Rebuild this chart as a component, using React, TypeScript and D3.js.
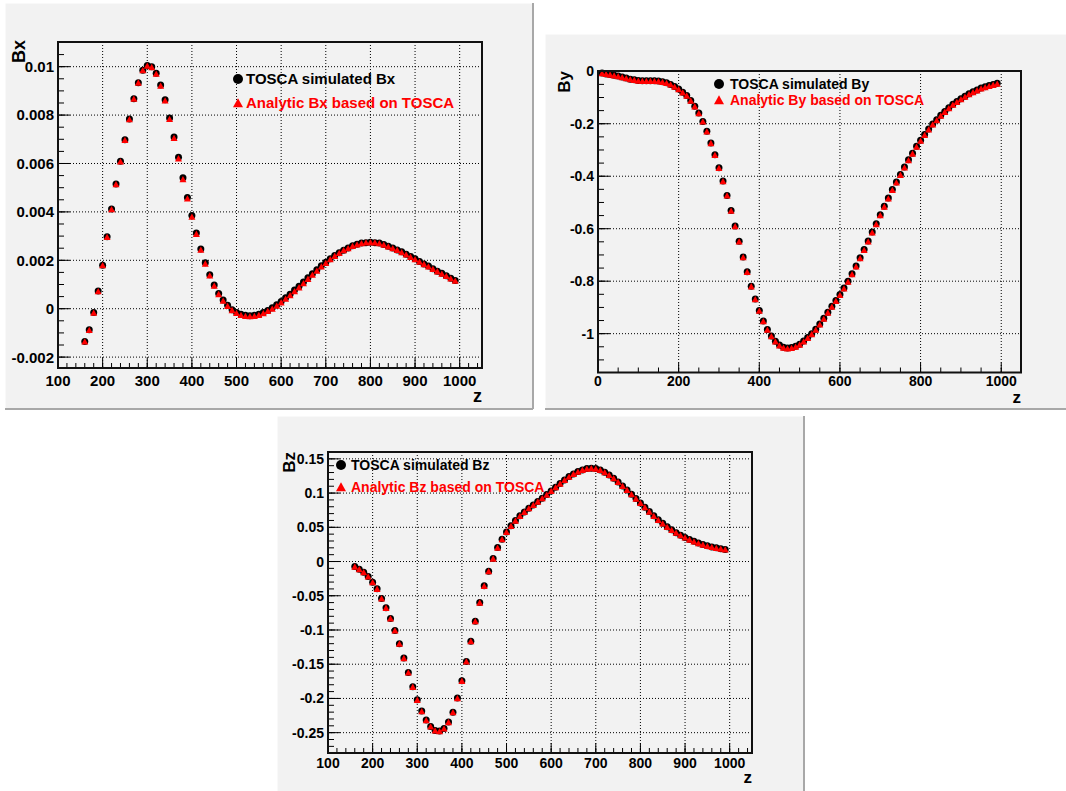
import React from 'react';
import * as d3 from 'd3';

// z positions of the samples (TOSCA grid, step 10)
const zBx = [160, 170, 180, 190, 200, 210, 220, 230, 240, 250, 260, 270, 280, 290, 300, 310, 320, 330, 340, 350,
  360, 370, 380, 390, 400, 410, 420, 430, 440, 450, 460, 470, 480, 490, 500, 510, 520, 530, 540, 550,
  560, 570, 580, 590, 600, 610, 620, 630, 640, 650, 660, 670, 680, 690, 700, 710, 720, 730, 740, 750,
  760, 770, 780, 790, 800, 810, 820, 830, 840, 850, 860, 870, 880, 890, 900, 910, 920, 930, 940, 950,
  960, 970, 980, 990];
const zBy = [10, 20, 30, 40, 50, 60, 70, 80, 90, 100, 110, 120, 130, 140, 150, 160, 170, 180, 190, 200,
  210, 220, 230, 240, 250, 260, 270, 280, 290, 300, 310, 320, 330, 340, 350, 360, 370, 380, 390, 400,
  410, 420, 430, 440, 450, 460, 470, 480, 490, 500, 510, 520, 530, 540, 550, 560, 570, 580, 590, 600,
  610, 620, 630, 640, 650, 660, 670, 680, 690, 700, 710, 720, 730, 740, 750, 760, 770, 780, 790, 800,
  810, 820, 830, 840, 850, 860, 870, 880, 890, 900, 910, 920, 930, 940, 950, 960, 970, 980, 990];
const zBz = zBx;

const bxTosca = [-0.00136, -0.00087, -0.00016, 0.00073, 0.0018, 0.00297, 0.00412, 0.00515, 0.00609, 0.00698,
  0.00784, 0.00868, 0.00934, 0.00985, 0.01005, 0.01, 0.00973, 0.00924, 0.00863, 0.00788,
  0.00709, 0.00626, 0.00541, 0.0046, 0.00385, 0.00313, 0.00247, 0.0019, 0.0014, 0.00098,
  0.00063, 0.00036, 0.00014, -0.00004, -0.00016, -0.00023, -0.00027, -0.00029, -0.00027, -0.00023,
  -0.00016, -0.00007, 0.00004, 0.00016, 0.0003, 0.00045, 0.0006, 0.00077, 0.00093, 0.0011,
  0.00128, 0.00144, 0.00161, 0.00177, 0.00192, 0.00206, 0.0022, 0.00231, 0.00242, 0.00251,
  0.0026, 0.00266, 0.00271, 0.00273, 0.00275, 0.00273, 0.00271, 0.00265, 0.00258, 0.00251,
  0.00243, 0.00235, 0.00225, 0.00216, 0.00206, 0.00195, 0.00185, 0.00176, 0.00165, 0.00155,
  0.00146, 0.00136, 0.00126, 0.00117];
const bxAnalytic = [-0.00136, -0.00088, -0.00017, 0.00072, 0.00179, 0.00296, 0.00411, 0.00514, 0.00608, 0.00697,
  0.00783, 0.00867, 0.00934, 0.00985, 0.01004, 0.00998, 0.00971, 0.00921, 0.0086, 0.00784,
  0.00705, 0.00621, 0.00535, 0.00455, 0.0038, 0.00309, 0.00243, 0.00186, 0.00137, 0.00095,
  0.0006, 0.00033, 0.00011, -0.00006, -0.00018, -0.00026, -0.0003, -0.00031, -0.0003, -0.00026,
  -0.00019, -0.0001, 0.0, 0.00012, 0.00026, 0.00041, 0.00055, 0.00072, 0.00088, 0.00105,
  0.00123, 0.0014, 0.00157, 0.00174, 0.00189, 0.00204, 0.00218, 0.0023, 0.00241, 0.0025,
  0.00259, 0.00265, 0.0027, 0.00273, 0.00274, 0.00273, 0.0027, 0.00264, 0.00257, 0.0025,
  0.00242, 0.00233, 0.00224, 0.00214, 0.00204, 0.00194, 0.00184, 0.00174, 0.00164, 0.00154,
  0.00144, 0.00135, 0.00125, 0.00115];

const byTosca = [-0.007, -0.01, -0.012, -0.015, -0.018, -0.022, -0.026, -0.03, -0.032, -0.035,
  -0.036, -0.036, -0.036, -0.036, -0.037, -0.04, -0.044, -0.05, -0.058, -0.068,
  -0.08, -0.092, -0.111, -0.133, -0.159, -0.191, -0.229, -0.273, -0.318, -0.368,
  -0.418, -0.473, -0.531, -0.59, -0.648, -0.708, -0.764, -0.819, -0.868, -0.912,
  -0.952, -0.984, -1.009, -1.029, -1.043, -1.052, -1.055, -1.053, -1.048, -1.04,
  -1.028, -1.015, -1.0, -0.983, -0.963, -0.941, -0.918, -0.896, -0.874, -0.851,
  -0.826, -0.8, -0.772, -0.742, -0.711, -0.679, -0.647, -0.613, -0.581, -0.547,
  -0.514, -0.483, -0.451, -0.422, -0.393, -0.365, -0.337, -0.312, -0.286, -0.263,
  -0.241, -0.22, -0.201, -0.185, -0.168, -0.153, -0.139, -0.126, -0.115, -0.105,
  -0.095, -0.086, -0.078, -0.071, -0.064, -0.059, -0.054, -0.05, -0.046];
const byAnalytic = [-0.008, -0.011, -0.013, -0.016, -0.019, -0.023, -0.027, -0.031, -0.033, -0.036,
  -0.037, -0.037, -0.037, -0.037, -0.038, -0.041, -0.045, -0.051, -0.059, -0.069,
  -0.081, -0.093, -0.112, -0.134, -0.16, -0.192, -0.23, -0.274, -0.319, -0.369,
  -0.419, -0.474, -0.532, -0.591, -0.649, -0.709, -0.765, -0.82, -0.869, -0.913,
  -0.953, -0.985, -1.01, -1.03, -1.045, -1.054, -1.057, -1.055, -1.05, -1.042,
  -1.03, -1.017, -1.002, -0.985, -0.965, -0.943, -0.92, -0.898, -0.876, -0.853,
  -0.828, -0.802, -0.774, -0.744, -0.713, -0.681, -0.649, -0.615, -0.583, -0.549,
  -0.516, -0.485, -0.453, -0.424, -0.395, -0.367, -0.339, -0.314, -0.288, -0.265,
  -0.243, -0.222, -0.203, -0.187, -0.17, -0.155, -0.141, -0.128, -0.117, -0.107,
  -0.097, -0.088, -0.08, -0.073, -0.066, -0.061, -0.056, -0.052, -0.048];

const bzTosca = [-0.0073, -0.0111, -0.0155, -0.0217, -0.0301, -0.0398, -0.054, -0.0676, -0.0832, -0.1007,
  -0.12, -0.141, -0.162, -0.183, -0.202, -0.2185, -0.2316, -0.2409, -0.2467, -0.2477,
  -0.2438, -0.2345, -0.22, -0.1995, -0.1742, -0.146, -0.1163, -0.0871, -0.0599, -0.0355,
  -0.0141, 0.0044, 0.0204, 0.0326, 0.0433, 0.0521, 0.0599, 0.0667, 0.0725, 0.0779,
  0.0827, 0.0876, 0.0925, 0.0978, 0.1032, 0.1085, 0.1139, 0.1192, 0.1241, 0.128,
  0.1314, 0.1338, 0.1358, 0.1363, 0.1358, 0.1338, 0.1304, 0.1265, 0.1217, 0.1163,
  0.1105, 0.1046, 0.0983, 0.092, 0.0856, 0.0793, 0.073, 0.0667, 0.061, 0.0558,
  0.0508, 0.0463, 0.0422, 0.0385, 0.0352, 0.0322, 0.0295, 0.027, 0.0249, 0.023,
  0.0214, 0.02, 0.0188, 0.0177];
const bzAnalytic = [-0.0075, -0.0113, -0.0157, -0.0219, -0.0303, -0.04, -0.0542, -0.0678, -0.0834, -0.1009,
  -0.1202, -0.1412, -0.1622, -0.1832, -0.2022, -0.2187, -0.2318, -0.2411, -0.247, -0.248,
  -0.244, -0.2347, -0.2202, -0.1997, -0.1744, -0.1462, -0.1165, -0.0873, -0.0601, -0.0357,
  -0.0143, 0.0042, 0.0202, 0.0324, 0.0431, 0.0519, 0.0597, 0.0665, 0.0723, 0.0777,
  0.0825, 0.0874, 0.0923, 0.0976, 0.103, 0.1083, 0.1137, 0.119, 0.1239, 0.1278,
  0.1312, 0.1336, 0.1356, 0.1361, 0.1356, 0.1336, 0.1302, 0.1263, 0.1215, 0.1161,
  0.1103, 0.1044, 0.0981, 0.0918, 0.0854, 0.0791, 0.0728, 0.0665, 0.0607, 0.0555,
  0.0505, 0.046, 0.0419, 0.0382, 0.0349, 0.0319, 0.0292, 0.0267, 0.0246, 0.0227,
  0.0211, 0.0197, 0.0185, 0.0174];

// axis ticks and labels
const zTicks100 = [100, 200, 300, 400, 500, 600, 700, 800, 900, 1000];
const zLabels100 = ['100', '200', '300', '400', '500', '600', '700', '800', '900', '1000'];
const zTicks0 = [0, 200, 400, 600, 800, 1000];
const zLabels0 = ['0', '200', '400', '600', '800', '1000'];
const bxTicks = [-0.002, 0, 0.002, 0.004, 0.006, 0.008, 0.01];
const bxLabels = ['-0.002', '0', '0.002', '0.004', '0.006', '0.008', '0.01'];
const byTicks = [-1, -0.8, -0.6, -0.4, -0.2, 0];
const byLabels = ['-1', '-0.8', '-0.6', '-0.4', '-0.2', '0'];
const bzTicks = [-0.25, -0.2, -0.15, -0.1, -0.05, 0, 0.05, 0.1, 0.15];
const bzLabels = ['-0.25', '-0.2', '-0.15', '-0.1', '-0.05', '0', '0.05', '0.1', '0.15'];

const FONT = '"Liberation Sans", Arial, Helvetica, sans-serif';
const RED = '#ff0000';

// minor tick positions between lo and hi
const minorTicks = (lo, hi, step) => {
  const first = Math.ceil(lo / step - 1e-6);
  const last = Math.floor(hi / step + 1e-6);
  return d3.range(first, last + 1).map(k => k * step);
};

const tri = (cx, cy, s) => `M${cx - s},${cy + s * 0.85}L${cx + s},${cy + s * 0.85}L${cx},${cy - s * 0.95}Z`;

const Panel = ({ cfg }) => {
  const { box, frame, fs } = cfg;
  const x = d3.scaleLinear().domain(cfg.xDomain).range([frame.left, frame.right]);
  const y = d3.scaleLinear().domain(cfg.yDomain).range([frame.bottom, frame.top]);
  const xMinor = minorTicks(cfg.xDomain[0], cfg.xDomain[1], cfg.xMinorStep);
  const yMinor = minorTicks(cfg.yDomain[0], cfg.yDomain[1], cfg.yMinorStep);
  const r = 3.5;
  return (
    <g fontFamily={FONT} fontWeight="bold">
      <rect x={box.x} y={box.y} width={box.w} height={box.h} fill="#f2f2f2" />
      <line x1={box.x} x2={box.x} y1={box.y} y2={box.y + box.h} stroke="#fff" strokeWidth={1} />
      <line x1={box.x} x2={box.x + box.w} y1={box.y} y2={box.y} stroke="#fff" strokeWidth={1} />
      <line x1={box.x + box.w} x2={box.x + box.w} y1={box.y} y2={box.y + box.h} stroke="#a8a8a8" strokeWidth={2} />
      <line x1={box.x} x2={box.x + box.w} y1={box.y + box.h} y2={box.y + box.h} stroke="#a8a8a8" strokeWidth={2} />

      {/* grid */}
      <g stroke="#000" strokeWidth={1} strokeDasharray="1 2">
        {cfg.xTicks.map(t => (
          <line key={'gx' + t} x1={x(t)} x2={x(t)} y1={frame.top} y2={frame.bottom} />
        ))}
        {cfg.yTicks.map(t => (
          <line key={'gy' + t} x1={frame.left} x2={frame.right} y1={y(t)} y2={y(t)} />
        ))}
      </g>

      {/* ticks */}
      <g stroke="#000" strokeWidth={1}>
        {xMinor.map(t => (
          <line key={'mx' + t} x1={x(t)} x2={x(t)} y1={frame.bottom} y2={frame.bottom - 5} />
        ))}
        {cfg.xTicks.map(t => (
          <line key={'tx' + t} x1={x(t)} x2={x(t)} y1={frame.bottom} y2={frame.bottom - 10} />
        ))}
        {yMinor.map(t => (
          <line key={'my' + t} x1={frame.left} x2={frame.left + 6} y1={y(t)} y2={y(t)} />
        ))}
        {cfg.yTicks.map(t => (
          <line key={'ty' + t} x1={frame.left} x2={frame.left + 12} y1={y(t)} y2={y(t)} />
        ))}
      </g>

      {/* data */}
      <g fill="#000">
        {cfg.z.map((zv, i) => (
          <circle key={'c' + i} cx={x(zv)} cy={y(cfg.tosca[i])} r={r} />
        ))}
      </g>
      <g fill={RED}>
        {cfg.z.map((zv, i) => (
          <path key={'t' + i} d={tri(x(zv), y(cfg.analytic[i]), r)} />
        ))}
      </g>

      <rect x={frame.left} y={frame.top} width={frame.right - frame.left} height={frame.bottom - frame.top}
        fill="none" stroke="#111" strokeWidth={2} />

      {/* tick labels */}
      <g fontSize={fs.tick} fill="#000">
        {cfg.xTicks.map((t, i) => (
          <text key={'lx' + t} x={x(t)} y={cfg.xLabelY} textAnchor="middle">{cfg.xLabels[i]}</text>
        ))}
        {cfg.yTicks.map((t, i) => (
          <text key={'ly' + t} x={frame.left - 4} y={y(t)} dy="0.36em" textAnchor="end">{cfg.yLabels[i]}</text>
        ))}
      </g>

      {/* axis titles */}
      <text x={frame.right} y={cfg.zTitleY} textAnchor="end" fontSize={fs.title}>z</text>
      <text transform={`translate(${cfg.yTitle.x},${cfg.yTitle.y}) rotate(-90)`} textAnchor="end"
        fontSize={fs.title}>{cfg.yName}</text>

      {/* legend */}
      <g fontSize={fs.legend}>
        <circle cx={cfg.legend.x} cy={cfg.legend.y1} r={5} fill="#000" />
        <text x={cfg.legend.tx} y={cfg.legend.y1} dy="0.36em" fill="#000">{cfg.legendTosca}</text>
        <path d={tri(cfg.legend.x, cfg.legend.y2, 5)} fill={RED} />
        <text x={cfg.legend.tx} y={cfg.legend.y2} dy="0.36em" fill={RED}>{cfg.legendAnalytic}</text>
      </g>
    </g>
  );
};

const panels = [
  {
    box: { x: 5, y: 3, w: 528, h: 406 },
    frame: { left: 58, right: 482, top: 42, bottom: 368 },
    fs: { tick: 15, title: 18, legend: 15 },
    xDomain: [100, 1050], yDomain: [-0.00245, 0.01102],
    xMinorStep: 20, yMinorStep: 0.0005,
    xTicks: zTicks100, xLabels: zLabels100, yTicks: bxTicks, yLabels: bxLabels,
    xLabelY: 386, zTitleY: 402, yTitle: { x: 25, y: 40 }, yName: 'Bx',
    z: zBx, tosca: bxTosca, analytic: bxAnalytic,
    legend: { x: 238, tx: 246, y1: 79, y2: 103 },
    legendTosca: 'TOSCA simulated Bx', legendAnalytic: 'Analytic Bx based on TOSCA',
  },
  {
    box: { x: 545, y: 34, w: 540, h: 375 },
    frame: { left: 598, right: 1021, top: 71, bottom: 372.5 },
    fs: { tick: 14, title: 17, legend: 14 },
    xDomain: [0, 1049], yDomain: [-1.148, 0.001],
    xMinorStep: 50, yMinorStep: 0.05,
    xTicks: zTicks0, xLabels: zLabels0, yTicks: byTicks, yLabels: byLabels,
    xLabelY: 386, zTitleY: 403, yTitle: { x: 570, y: 71 }, yName: 'By',
    z: zBy, tosca: byTosca, analytic: byAnalytic,
    legend: { x: 719, tx: 730, y1: 84, y2: 100 },
    legendTosca: 'TOSCA simulated By', legendAnalytic: 'Analytic By based on TOSCA',
  },
  {
    box: { x: 277, y: 416, w: 527, h: 380 },
    frame: { left: 328, right: 752, top: 452, bottom: 753 },
    fs: { tick: 14, title: 17, legend: 14 },
    xDomain: [100, 1050], yDomain: [-0.2797, 0.16],
    xMinorStep: 20, yMinorStep: 0.01,
    xTicks: zTicks100, xLabels: zLabels100, yTicks: bzTicks, yLabels: bzLabels,
    xLabelY: 768, zTitleY: 783, yTitle: { x: 295, y: 452 }, yName: 'Bz',
    z: zBz, tosca: bzTosca, analytic: bzAnalytic,
    legend: { x: 341, tx: 351, y1: 465, y2: 487 },
    legendTosca: 'TOSCA simulated Bz', legendAnalytic: 'Analytic Bz based on TOSCA',
  },
];

const App = () => (
  <svg width={1066} height={791} style={{ position: 'absolute', left: 0, top: 0, background: '#fff' }}>
    {panels.map((p, i) => <Panel key={i} cfg={p} />)}
  </svg>
);

export default App;
